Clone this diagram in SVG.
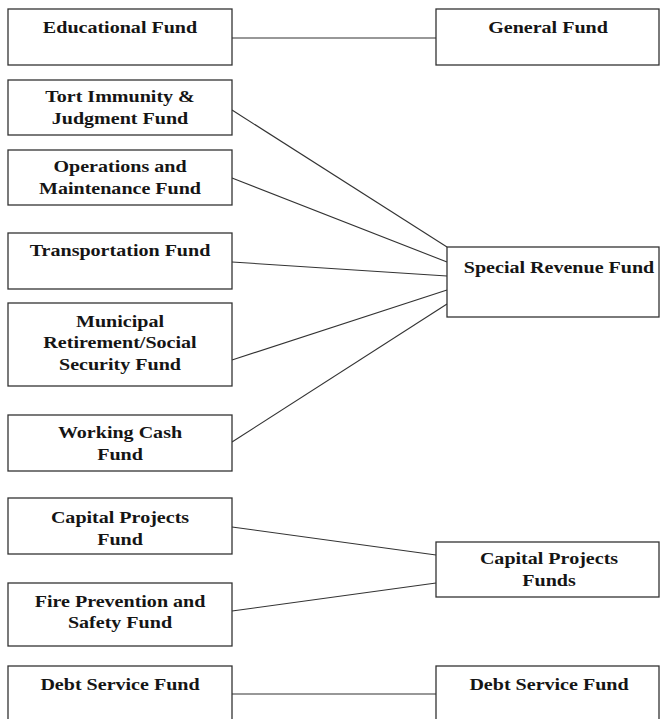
<svg xmlns="http://www.w3.org/2000/svg" width="661" height="719" viewBox="0 0 661 719">
<style>
rect.box{fill:#fff;stroke:#333;stroke-width:1.3}
text{font-family:"Liberation Serif","Times New Roman",serif;font-weight:bold;font-size:17px;fill:#151515;text-anchor:middle}
#connectors line{stroke:#333;stroke-width:1.1}
</style>
<rect width="661" height="719" fill="#fff"/>
<g id="connectors">
<line x1="232" y1="38" x2="436" y2="38"/>
<line x1="232" y1="110" x2="447" y2="247"/>
<line x1="232" y1="178" x2="447" y2="262"/>
<line x1="232" y1="262" x2="447" y2="276"/>
<line x1="232" y1="360" x2="447" y2="290"/>
<line x1="232" y1="442" x2="447" y2="304"/>
<line x1="232" y1="527" x2="436" y2="555"/>
<line x1="232" y1="611" x2="436" y2="583"/>
<line x1="232" y1="694" x2="436" y2="694"/>
</g>
<g id="educational">
<rect class="box" x="8" y="9" width="224" height="56"/>
<text transform="translate(120,33) scale(1.18,1)">Educational Fund</text>
</g>
<g id="general">
<rect class="box" x="436" y="9" width="223" height="56"/>
<text transform="translate(548,33) scale(1.18,1)">General Fund</text>
</g>
<g id="tort">
<rect class="box" x="8" y="80" width="224" height="55"/>
<text transform="translate(120,102) scale(1.18,1)">Tort Immunity &amp;</text>
<text transform="translate(120,124) scale(1.18,1)">Judgment Fund</text>
</g>
<g id="operations">
<rect class="box" x="8" y="150" width="224" height="55"/>
<text transform="translate(120,172) scale(1.18,1)">Operations and</text>
<text transform="translate(120,194) scale(1.18,1)">Maintenance Fund</text>
</g>
<g id="transportation">
<rect class="box" x="8" y="233" width="224" height="56"/>
<text transform="translate(120,256) scale(1.18,1)">Transportation Fund</text>
</g>
<g id="special-revenue">
<rect class="box" x="447" y="247" width="212" height="70"/>
<text transform="translate(559,273) scale(1.18,1)">Special Revenue Fund</text>
</g>
<g id="municipal">
<rect class="box" x="8" y="303" width="224" height="83"/>
<text transform="translate(120,327) scale(1.18,1)">Municipal</text>
<text transform="translate(120,348) scale(1.18,1)">Retirement/Social</text>
<text transform="translate(120,370) scale(1.18,1)">Security Fund</text>
</g>
<g id="working-cash">
<rect class="box" x="8" y="415" width="224" height="56"/>
<text transform="translate(120,438) scale(1.18,1)">Working Cash</text>
<text transform="translate(120,460) scale(1.18,1)">Fund</text>
</g>
<g id="capital-projects">
<rect class="box" x="8" y="498" width="224" height="56"/>
<text transform="translate(120,523) scale(1.18,1)">Capital Projects</text>
<text transform="translate(120,545) scale(1.18,1)">Fund</text>
</g>
<g id="capital-projects-funds">
<rect class="box" x="436" y="542" width="223" height="55"/>
<text transform="translate(549,564) scale(1.18,1)">Capital Projects</text>
<text transform="translate(549,586) scale(1.18,1)">Funds</text>
</g>
<g id="fire-prevention">
<rect class="box" x="8" y="583" width="224" height="63"/>
<text transform="translate(120,607) scale(1.18,1)">Fire Prevention and</text>
<text transform="translate(120,628) scale(1.18,1)">Safety Fund</text>
</g>
<g id="debt-service-left">
<rect class="box" x="8" y="666" width="224" height="62"/>
<text transform="translate(120,690) scale(1.18,1)">Debt Service Fund</text>
</g>
<g id="debt-service-right">
<rect class="box" x="436" y="666" width="223" height="62"/>
<text transform="translate(549,690) scale(1.18,1)">Debt Service Fund</text>
</g>
</svg>
